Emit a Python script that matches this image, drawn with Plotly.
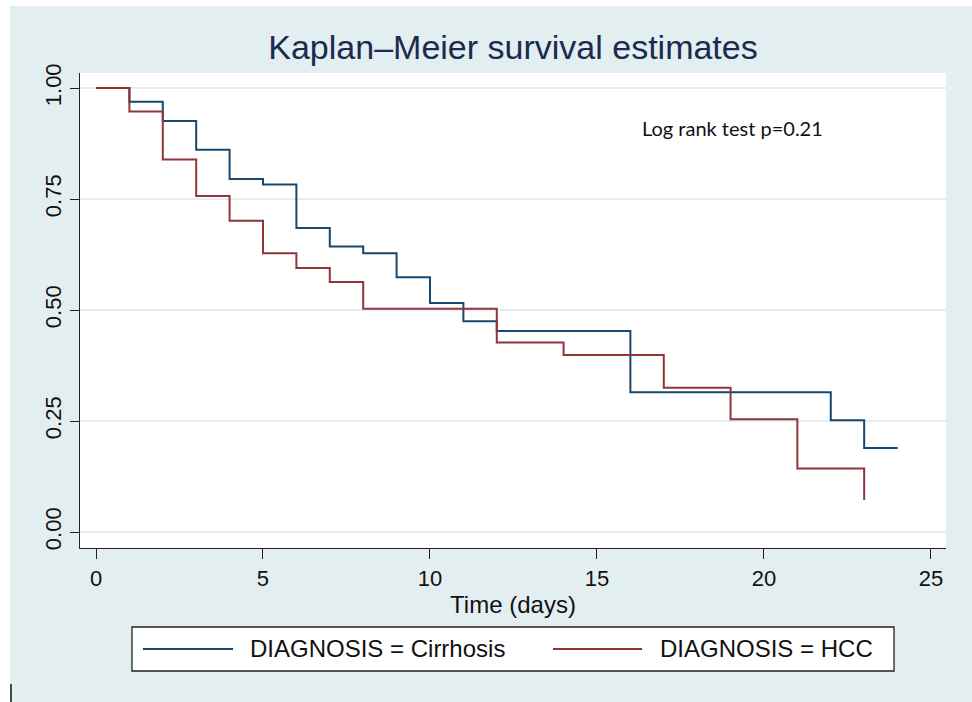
import plotly.graph_objects as go

# Kaplan-Meier step data
cirrhosis_time = [0, 1, 2, 3, 4, 5, 6, 7, 8, 9, 10, 11, 12, 16, 22, 23, 24]
cirrhosis_surv = [1.0, 0.969, 0.926, 0.861, 0.795, 0.783, 0.685, 0.643, 0.628,
                  0.574, 0.516, 0.475, 0.453, 0.315, 0.252, 0.189, 0.189]
hcc_time = [0, 1, 2, 3, 4, 5, 6, 7, 8, 12, 14, 17, 19, 21, 23]
hcc_surv = [1.0, 0.947, 0.839, 0.757, 0.701, 0.628, 0.595, 0.563, 0.503,
            0.427, 0.399, 0.325, 0.254, 0.143, 0.072]

x_ticks = [0, 5, 10, 15, 20, 25]
y_ticks = [0.0, 0.25, 0.5, 0.75, 1.0]
y_tick_labels = ["0.00", "0.25", "0.50", "0.75", "1.00"]

series_names = ["DIAGNOSIS = Cirrhosis", "DIAGNOSIS = HCC"]
NAVY = "#1a476f"
MAROON = "#90353b"
BG = "#e3eef1"
GRID = "#e4edf0"
FONT = "Liberation Sans, Arial, sans-serif"

fig = go.Figure()
fig.add_trace(go.Scatter(x=cirrhosis_time, y=cirrhosis_surv, mode="lines",
                         line=dict(color=NAVY, width=2, shape="hv"),
                         name=series_names[0], showlegend=False))
fig.add_trace(go.Scatter(x=hcc_time, y=hcc_surv, mode="lines",
                         line=dict(color=MAROON, width=2, shape="hv"),
                         name=series_names[1], showlegend=False))

shapes = [
    # light bluish graph region
    dict(type="rect", xref="paper", yref="paper", x0=-0.0808, x1=1.05,
         y0=-0.40, y1=1.1411, fillcolor=BG, line=dict(width=0), layer="below"),
    # white plot region
    dict(type="rect", xref="paper", yref="paper", x0=0, x1=1, y0=0, y1=1,
         fillcolor="white", line=dict(width=0), layer="below"),
    # legend box
    dict(type="rect", xref="paper", yref="paper", x0=0.0600, x1=0.9400,
         y0=-0.2589, y1=-0.1663, fillcolor="white",
         line=dict(color="#222222", width=1.3)),
    dict(type="line", xref="paper", yref="paper", x0=0.0727, x1=0.1767,
         y0=-0.2126, y1=-0.2126, line=dict(color=NAVY, width=2)),
    dict(type="line", xref="paper", yref="paper", x0=0.5462, x1=0.6490,
         y0=-0.2126, y1=-0.2126, line=dict(color=MAROON, width=2)),
    # stray mark at bottom left
    dict(type="line", xref="paper", yref="paper", x0=-0.0797, x1=-0.0797,
         y0=-0.2863, y1=-0.3242, line=dict(color="#111111", width=1.5)),
]

annotations = [
    dict(text=series_names[0], xref="paper", yref="paper", x=0.1940, y=-0.2126,
         xanchor="left", yanchor="middle", showarrow=False,
         font=dict(family=FONT, size=24, color="#111111")),
    dict(text=series_names[1], xref="paper", yref="paper", x=0.6674, y=-0.2126,
         xanchor="left", yanchor="middle", showarrow=False,
         font=dict(family=FONT, size=24, color="#111111")),
    dict(text="Log rank test p=0.21", xref="paper", yref="paper", x=0.754, y=0.884,
         xanchor="center", yanchor="middle", showarrow=False,
         font=dict(family="Lato, Carlito, sans-serif", size=20, color="#111111")),
]

W, H = 972, 702
fig.update_layout(
    width=W, height=H,
    margin=dict(l=80, r=26, t=73, b=154),
    paper_bgcolor="white", plot_bgcolor="white",
    title=dict(text="Kaplan\u2013Meier survival estimates", x=0.5, xref="paper",
               y=1 - 47 / H, yref="container", xanchor="center", yanchor="middle",
               font=dict(family=FONT, size=34, color="#1a2b4f")),
    shapes=shapes, annotations=annotations,
    showlegend=False,
    xaxis=dict(range=[-0.479, 25.45], tickvals=x_ticks, ticks="outside", ticklen=10,
               tickwidth=1.3, tickcolor="#222222", showline=True, linecolor="#222222",
               linewidth=1.3, showgrid=False, zeroline=False,
               tickfont=dict(family=FONT, size=22, color="#111111"),
               title=dict(text="Time (days)", standoff=6,
                          font=dict(family=FONT, size=24, color="#111111"))),
    yaxis=dict(range=[-0.036, 1.034], tickvals=y_ticks, ticktext=y_tick_labels,
               ticks="outside", ticklen=9, tickwidth=1.3, tickcolor="#222222",
               showline=True, linecolor="#222222", linewidth=1.3,
               showgrid=True, gridcolor=GRID, gridwidth=2, zeroline=False,
               tickangle=-90,
               tickfont=dict(family=FONT, size=22, color="#111111")),
)

fig.write_html(
    "out.html",
    config={"displayModeBar": False},
    post_script="document.body.style.margin='0';"
                "document.documentElement.style.overflow='hidden';"
                "document.body.style.overflow='hidden';",
)
